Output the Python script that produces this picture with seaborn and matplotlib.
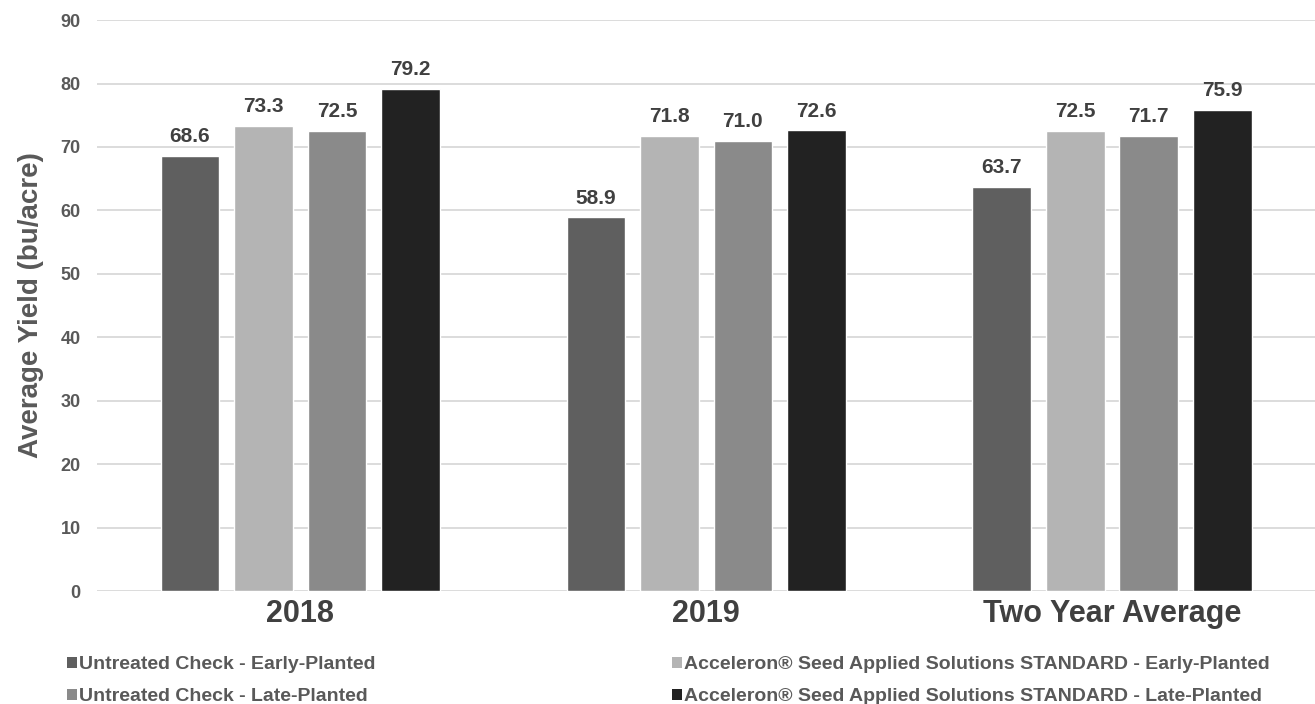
import pandas as pd
import matplotlib.pyplot as plt
import seaborn as sns
from matplotlib.patches import Patch

# ============================================================
# 1. PODACI
# ============================================================
groups = ['2018', '2019', 'Two Year Average']
series = [
    'Untreated Check - Early-Planted',
    'Acceleron® Seed Applied Solutions STANDARD - Early-Planted',
    'Untreated Check - Late-Planted',
    'Acceleron® Seed Applied Solutions STANDARD - Late-Planted',
]
untreated_early = [68.6, 58.9, 63.7]
accel_early = [73.3, 71.8, 72.5]
untreated_late = [72.5, 71.0, 71.7]
accel_late = [79.2, 72.6, 75.9]
colors = ['#5f5f5f', '#b4b4b4', '#8a8a8a', '#222222']

rows = []
for s, vals in zip(series, [untreated_early, accel_early, untreated_late, accel_late]):
    for g, v in zip(groups, vals):
        rows.append({'group': g, 'series': s, 'yield': v})
df = pd.DataFrame(rows)

# ============================================================
# 2. CRTANJE
# ============================================================
sns.set_theme(style='white')
plt.rcParams['font.family'] = ['Liberation Sans', 'DejaVu Sans']

fig = plt.figure(figsize=(13.15, 7.04), dpi=100)
ax = fig.add_axes([0.074, 0.1605, 0.926, 0.811])

sns.barplot(data=df, x='group', y='yield', hue='series', order=groups,
            hue_order=series, palette=colors, width=0.724, gap=0.2,
            saturation=1, errorbar=None, legend=False, ax=ax, zorder=3)

for cont in ax.containers:
    ax.bar_label(cont, fmt='%.1f', padding=7, fontsize=15,
                 fontweight='bold', color='#404040')

ax.set_ylim(0, 90)
ax.set_yticks(range(0, 91, 10))
ax.set_xlim(-0.5, 2.5)
ax.yaxis.grid(True, color='#d9d9d9', linewidth=1.3, zorder=0)
ax.set_axisbelow(True)
for sp in ax.spines.values():
    sp.set_visible(False)
ax.tick_params(axis='both', length=0)
ax.tick_params(axis='y', labelsize=13, labelcolor='#595959', pad=12)
ax.tick_params(axis='x', labelsize=22, labelcolor='#404040', pad=6)
for lab in ax.get_yticklabels() + ax.get_xticklabels():
    lab.set_fontweight('bold')
ax.set_xlabel('')
ax.set_ylabel('Average Yield (bu/acre)', fontsize=20, fontweight='bold',
              color='#595959', labelpad=12)

# legenda: dve kolone
def make_leg(idx, x):
    handles = [Patch(facecolor=colors[i], edgecolor='none') for i in idx]
    labels = [series[i] for i in idx]
    leg = fig.legend(handles, labels, loc='upper left', bbox_to_anchor=(x, 0.093),
                     frameon=False, handlelength=0.5, handleheight=0.5,
                     handletextpad=0.1, labelspacing=0.78,
                     prop={'size': 14, 'weight': 'bold'})
    for t in leg.get_texts():
        t.set_color('#595959')
    return leg

make_leg([0, 2], 0.038)
make_leg([1, 3], 0.498)

plt.savefig('out.png', dpi=100)
